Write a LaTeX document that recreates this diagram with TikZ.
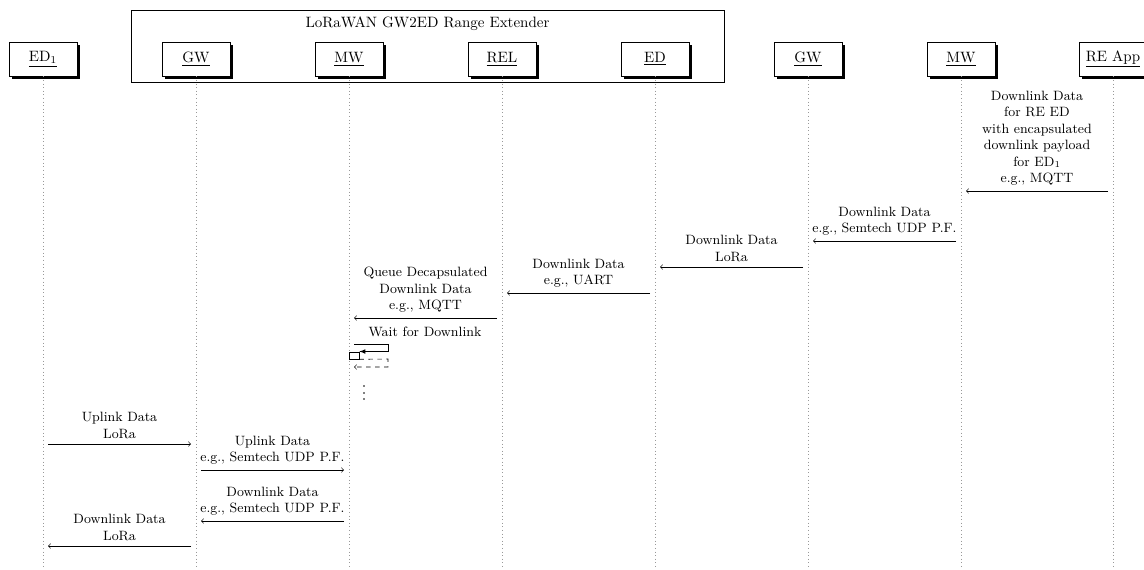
\documentclass[tikz,border=0pt]{standalone}
\usetikzlibrary{shadows}
\begin{document}
\begin{tikzpicture}[x=0.6667pt,y=-0.6667pt,
  hdr/.style={draw, fill=white, drop shadow={shadow xshift=2pt, shadow yshift=-2pt, fill=black, opacity=1},
    minimum width=45.3pt, minimum height=22.7pt, inner sep=2pt},
  life/.style={dotted, gray!80},
  msg/.style={->},
  lbl/.style={font=\small, align=center, above},
  grp/.style={draw, minimum width=395.3pt, minimum height=48pt, inner sep=0pt},
  vdot/.style={circle, fill=black, inner sep=0pt, minimum size=1.1pt},
]
\useasboundingbox (0,0) rectangle (1144,569);
\coordinate (bot) at (0,569);
% group box
\node[grp] (rebox) at (427.5,46) {};
\node (retitle) at (427.5,24) {LoRaWAN GW2ED Range Extender};
% headers
\node[hdr] (ed1) at (43,59) {\underline{ED$_1$}};
\node[hdr] (gwa) at (196,59) {\underline{GW}};
\node[hdr] (mwa) at (349,59) {\underline{MW}};
\node[hdr] (rel) at (502,59) {\underline{REL}};
\node[hdr] (eda) at (655,59) {\underline{ED}};
\node[hdr] (gwb) at (808,59) {\underline{GW}};
\node[hdr] (mwb) at (961,59) {\underline{MW}};
\node[hdr] (app) at (1113,59) {\underline{RE App}};
% lifelines
\foreach \n in {ed1,gwa,mwa,rel,eda,gwb,mwb,app}
  \draw[life] (\n.south) -- (\n.south |- bot);
% messages
\coordinate (m1a) at (1108,191); \coordinate (m1b) at (966,191);
\draw[msg] (m1a) -- node[lbl]{Downlink Data\\for RE ED\\with encapsulated\\downlink payload\\for ED$_1$\\e.g., MQTT} (m1b);
\coordinate (m2a) at (956,241); \coordinate (m2b) at (813,241);
\draw[msg] (m2a) -- node[lbl]{Downlink Data\\e.g., Semtech UDP P.F.} (m2b);
\coordinate (m3a) at (803,267); \coordinate (m3b) at (660,267);
\draw[msg] (m3a) -- node[lbl]{Downlink Data\\LoRa} (m3b);
\coordinate (m4a) at (650,293); \coordinate (m4b) at (507,293);
\draw[msg] (m4a) -- node[lbl]{Downlink Data\\e.g., UART} (m4b);
\coordinate (m5a) at (497,318); \coordinate (m5b) at (354,318);
\draw[msg] (m5a) -- node[lbl]{Queue Decapsulated\\Downlink Data\\e.g., MQTT} (m5b);
% self call
\node[font=\small, above] (wait) at (425,342) {Wait for Downlink};
\node[draw, fill=white, minimum width=6.67pt, minimum height=4.67pt, inner sep=0pt] (act) at (354,355.5) {};
\coordinate (s1) at (354,344); \coordinate (s2) at (388,344); \coordinate (s3) at (388,351.5);
\draw[-latex] (s1) -- (s2) -- (s3) -- (act.north east |- s3);
\coordinate (d2) at (388,359); \coordinate (d3) at (388,367); \coordinate (d4) at (354,367);
\draw[dashed, ->] (act.south east) -- (d2) -- (d3) -- (d4);
\node[vdot] (dot1) at (364,386) {};
\node[vdot] (dot2) at (364,393) {};
\node[vdot] (dot3) at (364,399) {};
% lower messages
\coordinate (m6a) at (48,444); \coordinate (m6b) at (191,444);
\draw[msg] (m6a) -- node[lbl]{Uplink Data\\LoRa} (m6b);
\coordinate (m7a) at (201,470); \coordinate (m7b) at (344,470);
\draw[msg] (m7a) -- node[lbl]{Uplink Data\\e.g., Semtech UDP P.F.} (m7b);
\coordinate (m8a) at (344,521); \coordinate (m8b) at (201,521);
\draw[msg] (m8a) -- node[lbl]{Downlink Data\\e.g., Semtech UDP P.F.} (m8b);
\coordinate (m9a) at (191,546); \coordinate (m9b) at (48,546);
\draw[msg] (m9a) -- node[lbl]{Downlink Data\\LoRa} (m9b);
\end{tikzpicture}
\end{document}
